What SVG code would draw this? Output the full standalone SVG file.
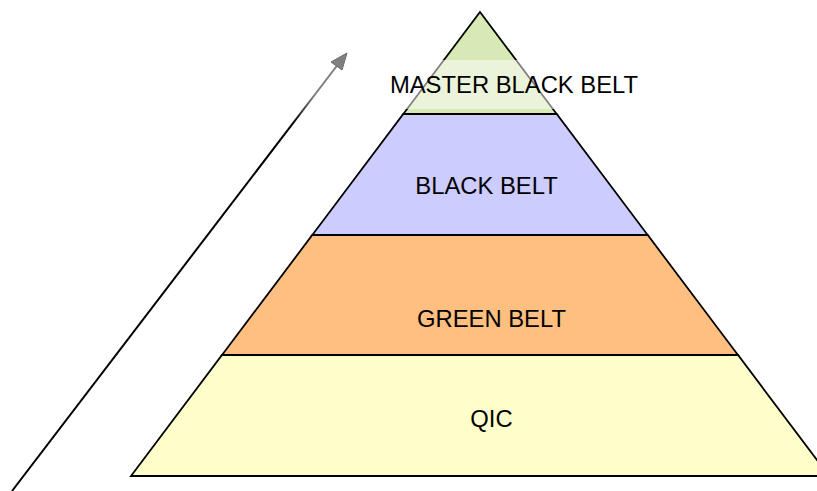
<svg xmlns="http://www.w3.org/2000/svg" width="817" height="491" viewBox="0 0 817 491">
  <style>
    .band { stroke: #000; stroke-width: 1.8; stroke-linejoin: miter; }
    .lbl { font-family: "Liberation Sans", Arial, sans-serif; font-size: 23.8px; fill: #000; text-anchor: middle; }
  </style>
  <defs>
    <linearGradient id="arrowGrad" gradientUnits="userSpaceOnUse" x1="12" y1="491" x2="347" y2="53">
      <stop offset="0" stop-color="#000"/>
      <stop offset="0.84" stop-color="#000"/>
      <stop offset="0.9" stop-color="#808080"/>
      <stop offset="1" stop-color="#808080"/>
    </linearGradient>
  </defs>
  <rect width="817" height="491" fill="#fff"/>
  <g id="connectors">
    <line x1="12" y1="491" x2="339" y2="63" stroke="url(#arrowGrad)" stroke-width="2"/>
    <polygon points="347,53 331,62 342,70" fill="#808080" stroke="#6a6a6a" stroke-width="1"/>
  </g>
  <g id="qic">
    <polygon class="band" points="222,355 738,355 829,476 131,476" fill="#ffffcc"/>
    <text class="lbl" x="491.5" y="427">QIC</text>
  </g>
  <g id="green-belt">
    <polygon class="band" points="312.3,235 647.7,235 738,355 222,355" fill="#ffbf80"/>
    <text class="lbl" x="491.5" y="326.5">GREEN BELT</text>
  </g>
  <g id="black-belt">
    <polygon class="band" points="403.3,114 556.7,114 647.7,235 312.3,235" fill="#ccccff"/>
    <text class="lbl" x="486.5" y="194">BLACK BELT</text>
  </g>
  <g id="master-black-belt">
    <polygon class="band" points="480,12 556.7,114 403.3,114" fill="#d7e9b4"/>
    <rect x="389" y="60" width="252" height="49" fill="#fff" fill-opacity="0.5"/>
    <text class="lbl" x="514" y="93">MASTER BLACK BELT</text>
  </g>
</svg>
